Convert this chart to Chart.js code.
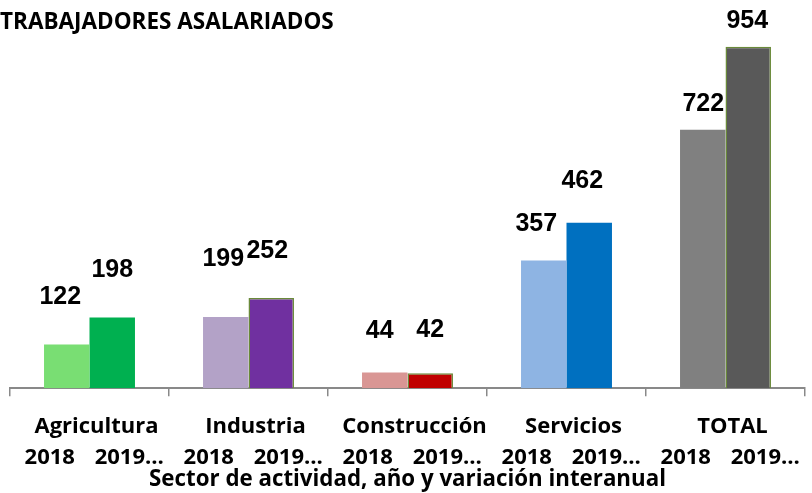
<!DOCTYPE html>
<html>
<head>
<meta charset="utf-8">
<title>Trabajadores asalariados</title>
<script src="https://cdn.jsdelivr.net/npm/chart.js@4.4.1/dist/chart.umd.min.js"></script>
<style>
  body { margin: 0; background: #fff; }
  canvas { display: block; }
</style>
</head>
<body>
<canvas id="myChart" width="812" height="493"></canvas>
<script>
const sectors = ["Agricultura", "Industria", "Construcción", "Servicios", "TOTAL"];
const yearLabels = ["2018", "2019…", "2018", "2019…", "2018", "2019…", "2018", "2019…", "2018", "2019…"];
const values2018 = [122, 199, 44, 357, 722];
const values2019 = [198, 252, 42, 462, 954];

// colours per sector
const colors2018 = ["#79de73", "#b3a2c7", "#d99694", "#8eb4e3", "#808080"];
const colors2019 = ["#00b050", "#7030a0", "#c00000", "#0070c0", "#595959"];
const outline2019 = [0, 1.5, 1.5, 0, 1.5];

// hand placed value labels (offset from bar top)
const labelDx = [[-6.5, -2.5, -5, -7.5, 0.5], [0, -4, 0, -7, -1]];
const labelDy = [[48, 58, 41, 36, 26], [47, 47, 43, 42, 26]];

const labelFont = "'Open Sans', 'DejaVu Sans', sans-serif";

const valueLabels = {
  id: "valueLabels",
  afterDatasetsDraw(chart) {
    const ctx = chart.ctx;
    ctx.save();
    ctx.font = "bold 25px 'Liberation Sans', Arial, sans-serif";
    ctx.fillStyle = "#000";
    ctx.textAlign = "center";
    ctx.textBaseline = "middle";
    chart.data.datasets.forEach((ds, i) => {
      chart.getDatasetMeta(i).data.forEach((bar, j) => {
        ctx.fillText(ds.data[j], bar.x + labelDx[i][j], bar.y - labelDy[i][j]);
      });
    });
    ctx.restore();
  }
};

const config = {
  type: "bar",
  data: {
    labels: sectors,
    datasets: [
      {
        label: "2018",
        data: values2018,
        backgroundColor: colors2018,
        borderWidth: 0,
      },
      {
        label: "2019",
        data: values2019,
        backgroundColor: colors2019,
        borderColor: "#6a8a3a",
        borderWidth: outline2019,
      },
    ],
  },
  options: {
    responsive: false,
    animation: false,
    maintainAspectRatio: false,
    categoryPercentage: 0.572,
    barPercentage: 1,
    layout: {
      padding: { top: 0, left: 0, right: 7, bottom: 0 },
    },
    scales: {
      x: {
        weight: 0,
        grid: {
          display: true,
          drawOnChartArea: false,
          drawTicks: true,
          tickLength: 8,
          color: "#898989",
          lineWidth: 1.5,
        },
        border: { display: true, color: "#898989", width: 2 },
        ticks: {
          color: "#000",
          padding: 17,
          labelOffset: 7,
          maxRotation: 0,
          font: { family: labelFont, size: 22, weight: "bold" },
        },
        afterFit: (scale) => { scale.height = 56.7; },
      },
      x2: {
        type: "category",
        position: "bottom",
        weight: 1,
        labels: yearLabels,
        grid: { display: false, drawTicks: false, tickLength: 0 },
        border: { display: false },
        ticks: {
          color: "#000",
          padding: 0,
          autoSkip: false,
          maxRotation: 0,
          font: { family: labelFont, size: 22, weight: "bold" },
        },
        title: {
          display: true,
          text: "Sector de actividad, año y variación interanual",
          color: "#000",
          padding: { top: 0, bottom: 0 },
          font: { family: labelFont, size: 22.3, weight: "bold" },
        },
        afterFit: (scale) => { scale.height = 48; },
      },
      y: {
        min: 0,
        max: 1000,
        grid: { display: false },
        border: { display: false },
        ticks: { display: false },
        afterFit: (scale) => { scale.width = 10; },
      },
    },
    plugins: {
      legend: { display: false },
      tooltip: { enabled: false },
      title: {
        display: true,
        text: "TRABAJADORES ASALARIADOS",
        align: "start",
        color: "#000",
        padding: { top: 15.8, bottom: 0 },
        font: { family: labelFont, size: 22.5, weight: "bold", lineHeight: 0.64 },
      },
    },
  },
  plugins: [valueLabels],
};

const ctx = document.getElementById("myChart").getContext("2d");
new Chart(ctx, config);
</script>
</body>
</html>
